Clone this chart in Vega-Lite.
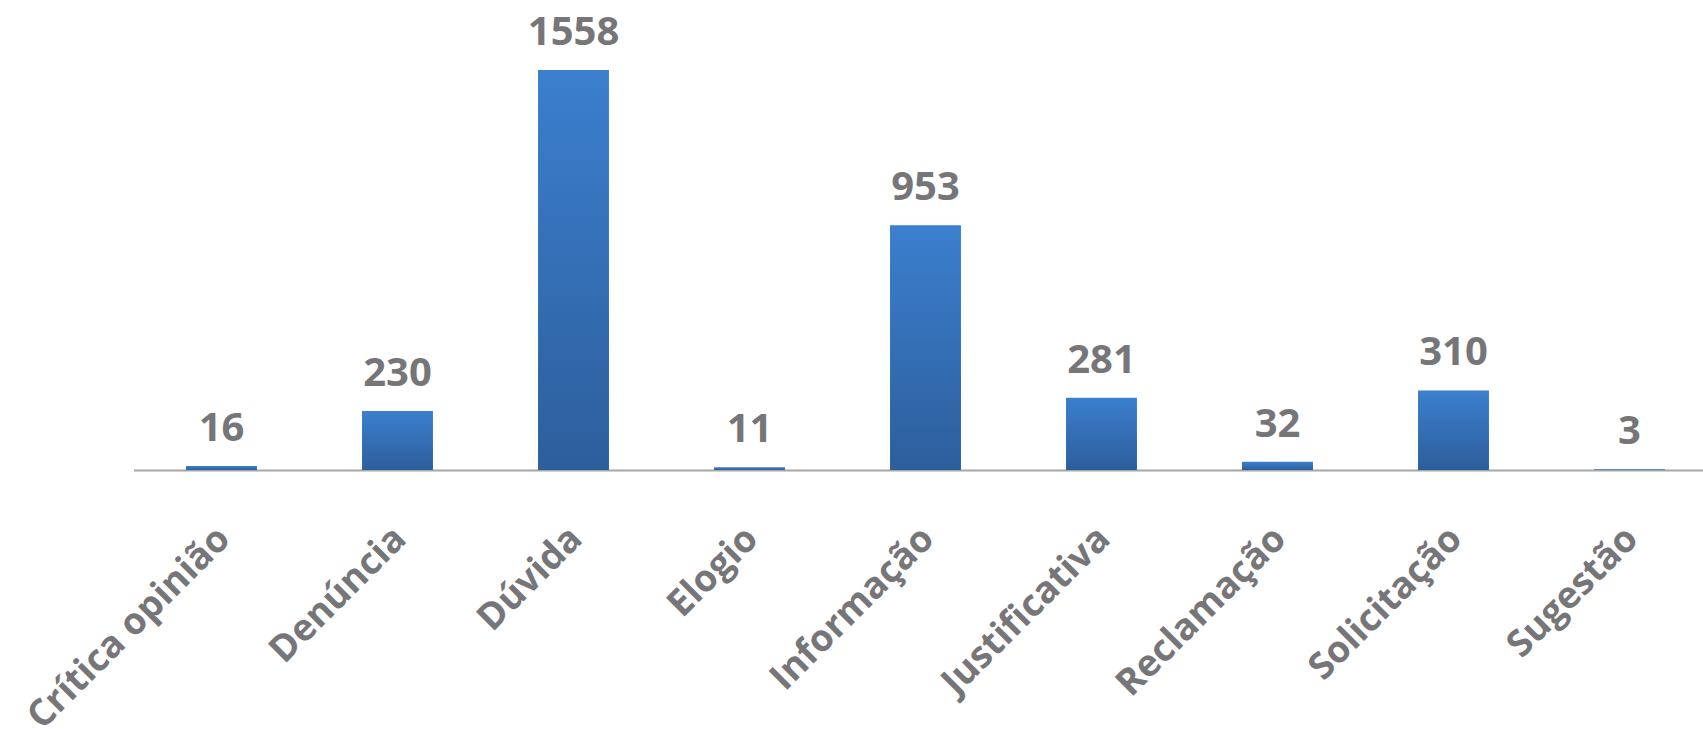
{
  "$schema": "https://vega.github.io/schema/vega-lite/v6.json",
  "autosize": "none",
  "width": 1570,
  "height": 400,
  "padding": {"left": 133.5, "top": 70, "right": 0, "bottom": 259},
  "background": "white",
  "config": {"view": {"stroke": null}},
  "data": {
    "values": [
      {"categoria": "Crítica opinião", "total": 16},
      {"categoria": "Denúncia", "total": 230},
      {"categoria": "Dúvida", "total": 1558},
      {"categoria": "Elogio", "total": 11},
      {"categoria": "Informação", "total": 953},
      {"categoria": "Justificativa", "total": 281},
      {"categoria": "Reclamação", "total": 32},
      {"categoria": "Solicitação", "total": 310},
      {"categoria": "Sugestão", "total": 3}
    ]
  },
  "encoding": {
    "x": {
      "field": "categoria",
      "type": "nominal",
      "sort": null,
      "scale": {"range": [0, 1584], "paddingInner": 0.597, "paddingOuter": 0.2985},
      "axis": {
        "title": null,
        "labelAngle": -45,
        "labelAlign": "right",
        "labelBaseline": "top",
        "labelFont": "Open Sans",
        "labelFontWeight": "bold",
        "labelFontSize": 37,
        "labelColor": "#767679",
        "labelPadding": 50,
        "labelOffset": -10,
        "labelLimit": 0,
        "labelBound": false,
        "labelFlush": false,
        "ticks": false,
        "domainColor": "#A6A6A6",
        "domainWidth": 2,
        "grid": false,
        "labelOverlap": false
      }
    },
    "y": {
      "field": "total",
      "type": "quantitative",
      "scale": {"domain": [0, 1558], "nice": false, "zero": true},
      "axis": null
    }
  },
  "layer": [
    {
      "mark": {
        "type": "bar",
        "color": {
          "gradient": "linear",
          "x1": 0, "y1": 0, "x2": 0, "y2": 1,
          "stops": [
            {"offset": 0, "color": "#3B7FCE"},
            {"offset": 1, "color": "#2D5E9C"}
          ]
        }
      }
    },
    {
      "mark": {
        "type": "text",
        "baseline": "alphabetic",
        "dy": -25,
        "font": "Open Sans",
        "fontWeight": "bold",
        "fontSize": 40,
        "color": "#767679"
      },
      "encoding": {"text": {"field": "total", "type": "quantitative"}}
    }
  ]
}
